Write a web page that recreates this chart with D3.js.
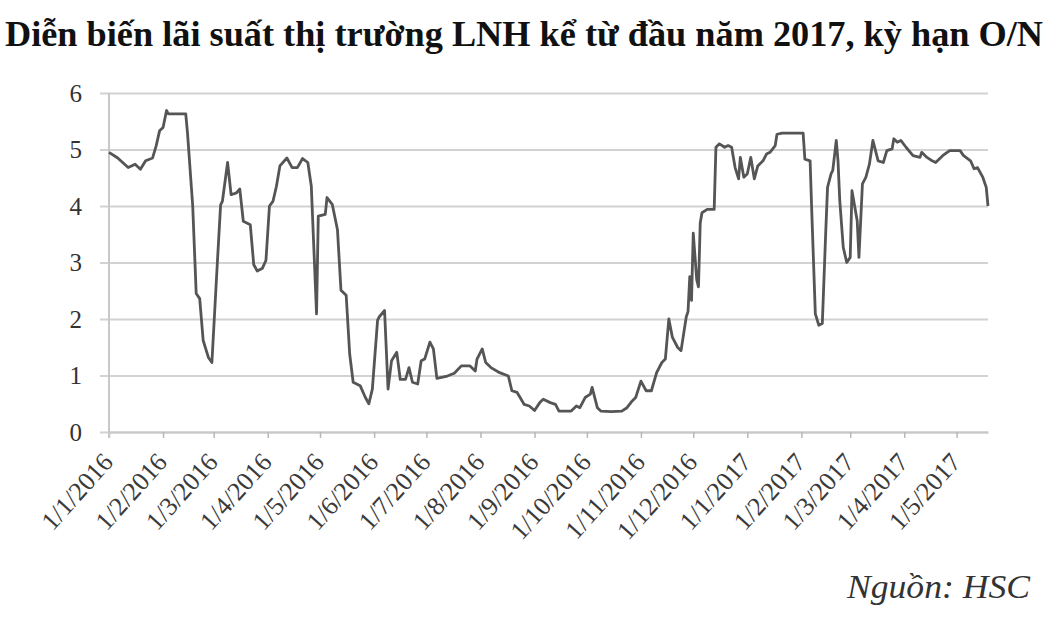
<!DOCTYPE html>
<html lang="vi">
<head>
    <meta charset="UTF-8" />
    <title>Diễn biến lãi suất LNH kỳ hạn O/N</title>
    <script src="https://d3js.org/d3.v7.min.js"></script>
    <style>
        body { margin: 0; background: #fff; }
    </style>
</head>
<body>
    <div id="chart"></div>
    <script>
// O/N interbank rate (%)
var dates = [
    "2016-01-01","2016-01-06","2016-01-12","2016-01-16","2016-01-19","2016-01-22","2016-01-26","2016-01-28","2016-01-30","2016-02-01","2016-02-03","2016-02-04","2016-02-14","2016-02-15","2016-02-18","2016-02-20","2016-02-22","2016-02-24","2016-02-27","2016-02-29",
    "2016-03-03","2016-03-05","2016-03-06","2016-03-09","2016-03-11","2016-03-14","2016-03-16","2016-03-18","2016-03-22","2016-03-24","2016-03-26","2016-03-29","2016-03-31",
    "2016-04-02","2016-04-04","2016-04-06","2016-04-08","2016-04-12","2016-04-15","2016-04-18","2016-04-21","2016-04-24","2016-04-26","2016-04-29","2016-04-30",
    "2016-05-04","2016-05-05","2016-05-08","2016-05-11","2016-05-13","2016-05-16","2016-05-18","2016-05-20","2016-05-24","2016-05-27","2016-05-29","2016-05-31",
    "2016-06-03","2016-06-04","2016-06-07","2016-06-09","2016-06-11","2016-06-14","2016-06-16","2016-06-19","2016-06-21","2016-06-23","2016-06-26","2016-06-28","2016-06-30",
    "2016-07-03","2016-07-05","2016-07-07","2016-07-13","2016-07-17","2016-07-21","2016-07-26","2016-07-29","2016-07-30",
    "2016-08-02","2016-08-04","2016-08-07","2016-08-12","2016-08-17","2016-08-19","2016-08-22","2016-08-26","2016-08-29",
    "2016-09-01","2016-09-04","2016-09-06","2016-09-10","2016-09-13","2016-09-15","2016-09-22","2016-09-25","2016-09-27","2016-09-30",
    "2016-10-03","2016-10-04","2016-10-07","2016-10-09","2016-10-15","2016-10-21","2016-10-24","2016-10-27","2016-10-29",
    "2016-11-01","2016-11-04","2016-11-07","2016-11-10","2016-11-13","2016-11-15","2016-11-17","2016-11-19","2016-11-22","2016-11-24","2016-11-27","2016-11-28","2016-11-29","2016-11-30",
    "2016-12-01","2016-12-03","2016-12-04","2016-12-05","2016-12-06","2016-12-09","2016-12-13","2016-12-14","2016-12-16","2016-12-19","2016-12-21","2016-12-23","2016-12-25","2016-12-27","2016-12-28","2016-12-30",
    "2017-01-01","2017-01-03","2017-01-05","2017-01-07","2017-01-10","2017-01-12","2017-01-14","2017-01-17","2017-01-18","2017-01-21",
    "2017-02-02","2017-02-03","2017-02-06","2017-02-07","2017-02-09","2017-02-11","2017-02-13","2017-02-15","2017-02-16","2017-02-18","2017-02-19","2017-02-21","2017-02-22","2017-02-23","2017-02-25","2017-02-27",
    "2017-03-01","2017-03-02","2017-03-05","2017-03-06","2017-03-08","2017-03-10","2017-03-12","2017-03-14","2017-03-17","2017-03-20","2017-03-22","2017-03-25","2017-03-26","2017-03-28","2017-03-30",
    "2017-04-02","2017-04-06","2017-04-10","2017-04-11","2017-04-14","2017-04-17","2017-04-19","2017-04-23","2017-04-27",
    "2017-05-03","2017-05-05","2017-05-09","2017-05-11","2017-05-13","2017-05-16","2017-05-18","2017-05-19"
];
var rates = [
    4.95,4.85,4.68,4.74,4.65,4.80,4.85,5.06,5.33,5.39,5.69,5.63,5.63,5.30,4.00,2.45,2.36,1.62,1.32,1.23,
    2.93,4.02,4.08,4.77,4.20,4.23,4.30,3.73,3.67,2.96,2.85,2.90,3.04,
    4.00,4.08,4.35,4.71,4.85,4.68,4.68,4.84,4.77,4.35,2.09,3.82,
    3.85,4.15,4.03,3.58,2.51,2.42,1.38,0.88,0.82,0.61,0.50,0.76,
    1.98,2.04,2.15,0.76,1.26,1.41,0.93,0.93,1.14,0.88,0.85,1.26,1.29,
    1.59,1.47,0.95,0.99,1.04,1.17,1.17,1.08,1.29,
    1.47,1.23,1.14,1.05,0.99,0.73,0.70,0.49,0.46,
    0.38,0.52,0.58,0.52,0.49,0.37,0.37,0.46,0.43,0.61,
    0.67,0.79,0.43,0.37,0.36,0.37,0.43,0.55,0.61,
    0.90,0.73,0.73,1.05,1.23,1.29,2.00,1.68,1.50,1.44,2.04,2.13,2.75,2.33,
    3.52,2.69,2.57,3.70,3.88,3.94,3.94,5.04,5.10,5.04,5.07,5.04,4.68,4.48,4.86,4.51,
    4.57,4.86,4.48,4.71,4.80,4.92,4.95,5.07,5.27,5.29,
    5.29,4.83,4.80,3.86,2.09,1.89,1.92,3.57,4.33,4.57,4.63,5.16,4.80,4.10,3.27,3.00,
    3.09,4.27,3.74,3.09,4.39,4.51,4.74,5.16,4.80,4.77,4.98,5.01,5.19,5.13,5.16,
    5.04,4.89,4.86,4.95,4.86,4.80,4.77,4.89,4.98,
    4.98,4.89,4.80,4.66,4.68,4.51,4.33,4.00
];
var yTicks = [0, 1, 2, 3, 4, 5, 6];
var xTicks = ["2016-01-01","2016-02-01","2016-03-01","2016-04-01","2016-05-01","2016-06-01","2016-07-01","2016-08-01","2016-09-01",
              "2016-10-01","2016-11-01","2016-12-01","2017-01-01","2017-02-01","2017-03-01","2017-04-01","2017-05-01"];
var title = "Diễn biến lãi suất thị trường LNH kể từ đầu năm 2017, kỳ hạn O/N";
var source = "Nguồn: HSC";

var serif = '"Liberation Serif", "DejaVu Serif", serif';
var width = 1050, height = 630;
var plotLeft = 109, plotRight = 988, plotTop = 93, plotBottom = 432;

var svg = d3.select("#chart").append("svg")
    .attr("width", width)
    .attr("height", height);

svg.append("rect").attr("width", width).attr("height", height).attr("fill", "#fff");

var parse = d3.utcParse("%Y-%m-%d");
var data = dates.map(function(d, i) { return { date: parse(d), value: rates[i] }; });

var x = d3.scaleUtc()
    .domain([parse("2016-01-01"), parse("2017-05-19")])
    .range([plotLeft, plotRight]);
var y = d3.scaleLinear().domain([0, 6]).range([plotBottom, plotTop]);

// title
svg.append("text")
    .attr("x", 5)
    .attr("y", 46)
    .attr("textLength", 1038)
    .attr("lengthAdjust", "spacingAndGlyphs")
    .style("font-family", serif)
    .style("font-size", "36px")
    .style("font-weight", "bold")
    .style("fill", "#111")
    .text(title);

// y axis with gridlines
var yAxis = svg.append("g")
    .attr("transform", "translate(100,0)")
    .call(d3.axisLeft(y)
        .tickValues(yTicks)
        .tickSize(-(plotRight - 100))
        .tickPadding(18)
        .tickFormat(d3.format("d")));
yAxis.select(".domain").remove();
yAxis.selectAll("line").attr("stroke", "#d2d2d2").attr("stroke-width", 2);
yAxis.selectAll("text")
    .style("font-family", serif)
    .style("font-size", "25px")
    .style("fill", "#333");

// x axis
var xAxis = svg.append("g")
    .attr("transform", "translate(0," + plotBottom + ")")
    .call(d3.axisBottom(x)
        .tickValues(xTicks.map(parse))
        .tickSize(6)
        .tickSizeOuter(0)
        .tickFormat(d3.utcFormat("%-d/%-m/%Y")));
xAxis.select(".domain").attr("stroke", "#c8c8c8").attr("stroke-width", 2);
xAxis.selectAll("line").attr("stroke", "#b8b8b8").attr("stroke-width", 1.5);
xAxis.selectAll("text")
    .attr("x", null).attr("y", null).attr("dy", null)
    .attr("transform", "translate(5,31) rotate(-48)")
    .attr("text-anchor", "end")
    .style("font-family", serif)
    .style("font-size", "26px")
    .style("fill", "#3a3a3a");

// vertical axis line
svg.append("line")
    .attr("x1", plotLeft).attr("x2", plotLeft)
    .attr("y1", plotTop).attr("y2", plotBottom + 6)
    .attr("stroke", "#c8c8c8").attr("stroke-width", 2);

// rate line
var line = d3.line()
    .x(function(d) { return x(d.date); })
    .y(function(d) { return y(d.value); });

svg.append("path")
    .datum(data)
    .attr("d", line)
    .attr("fill", "none")
    .attr("stroke", "#555")
    .attr("stroke-width", 2.8)
    .attr("stroke-linejoin", "round");

// source note
svg.append("text")
    .attr("x", 847)
    .attr("y", 598)
    .attr("textLength", 183)
    .attr("lengthAdjust", "spacingAndGlyphs")
    .style("font-family", serif)
    .style("font-size", "33px")
    .style("font-style", "italic")
    .style("fill", "#333")
    .text(source);
    </script>
</body>
</html>
